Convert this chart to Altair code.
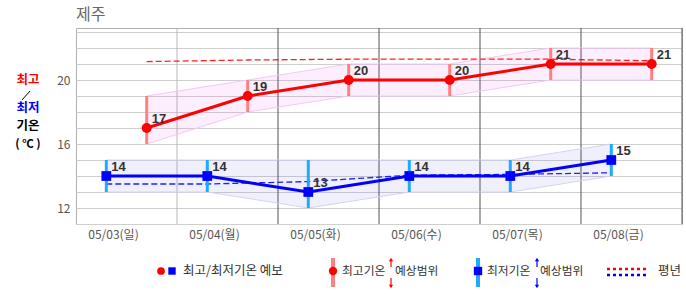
import altair as alt
import pandas as pd

# ---------------- data ----------------
dates = ["05/03(일)", "05/04(월)", "05/05(화)", "05/06(수)", "05/07(목)", "05/08(금)"]
max_fc = [17, 19, 20, 20, 21, 21]
max_lo = [16, 18, 19, 19, 20, 20]
max_hi = [19, 20, 21, 21, 22, 22]
max_normal = [21.15, 21.25, 21.3, 21.3, 21.3, 21.2]
min_fc = [14, 14, 13, 14, 14, 15]
min_lo = [13, 13, 12, 13, 13, 14]
min_hi = [15, 15, 15, 15, 15, 16]
min_normal = [13.5, 13.5, 13.65, 14.05, 14.1, 14.2]
y_ticks = list(range(11, 24))
y_label_step = 4

n = len(dates)
RED_OFF, BLUE_OFF, LABEL_OFF = 0.7, 0.3, 0.366

df_max = pd.DataFrame({"x": [i + RED_OFF for i in range(n)], "fc": max_fc,
                       "lo": max_lo, "hi": max_hi, "normal": max_normal})
df_min = pd.DataFrame({"x": [i + BLUE_OFF for i in range(n)], "fc": min_fc,
                       "lo": min_lo, "hi": min_hi, "normal": min_normal})
df_sep_light = pd.DataFrame({"x": [1]})
df_sep_dark = pd.DataFrame({"x": list(range(2, n + 1))})
df_axis = pd.DataFrame({"x": [i + LABEL_OFF for i in range(n)], "y": [11] * n})

KR = "Noto Sans CJK KR"
NUM = "Liberation Sans"

label_arr = "[" + ",".join("'%s'" % d for d in dates) + "]"
X_AX = alt.Axis(values=[i + LABEL_OFF for i in range(n)],
                labelExpr=label_arr + "[floor(datum.value)]",
                title=None, grid=False, ticks=False, domain=False,
                labelFont=KR, labelFontSize=12, labelColor="#555",
                labelPadding=5, labelAlign="center")
Y_AX = alt.Axis(values=y_ticks,
                labelExpr="datum.value %% %d == 0 ? datum.label : ''" % y_label_step,
                title=None, grid=True, gridColor="#cfcfcf", ticks=False, domain=False,
                labelFont=KR, labelFontSize=12, labelColor="#555", labelPadding=6)
xs = alt.Scale(domain=[0, n], nice=False, zero=False)
ys = alt.Scale(domain=[11, 23.25], nice=False, zero=False)


def X(f="x"):
    return alt.X(f + ":Q", scale=xs, axis=X_AX)


def Y(f):
    return alt.Y(f + ":Q", scale=ys, axis=Y_AX)


layers = []
# axes carrier
layers.append(alt.Chart(df_axis).mark_point(opacity=0).encode(x=X(), y=Y("y")))
# day separators
layers.append(alt.Chart(df_sep_light).mark_rule(color="#b8b8b8", strokeWidth=1).encode(x=X()))
layers.append(alt.Chart(df_sep_dark).mark_rule(color="#555555", strokeWidth=1).encode(x=X()))

# forecast ranges (bands)
layers.append(alt.Chart(df_max).mark_area(color="#ee44ee", opacity=0.09).encode(
    x=X(), y=Y("hi"), y2="lo"))
layers.append(alt.Chart(df_max).mark_line(color="#f4c8f4", strokeWidth=1).encode(x=X(), y=Y("hi")))
layers.append(alt.Chart(df_max).mark_line(color="#f4c8f4", strokeWidth=1).encode(x=X(), y=Y("lo")))
layers.append(alt.Chart(df_min).mark_area(color="#5555dd", opacity=0.09).encode(
    x=X(), y=Y("hi"), y2="lo"))
layers.append(alt.Chart(df_min).mark_line(color="#d4d4f4", strokeWidth=1).encode(x=X(), y=Y("hi")))
layers.append(alt.Chart(df_min).mark_line(color="#d4d4f4", strokeWidth=1).encode(x=X(), y=Y("lo")))

# normals
layers.append(alt.Chart(df_max).mark_line(color="#ff2020", strokeWidth=1.3, strokeDash=[6, 3]).encode(
    x=X(), y=Y("normal")))
layers.append(alt.Chart(df_min).mark_line(color="#2020ff", strokeWidth=1.3, strokeDash=[6, 3]).encode(
    x=X(), y=Y("normal")))

# range bars
layers.append(alt.Chart(df_max).mark_rule(color="#ff8080", strokeWidth=3).encode(
    x=X(), y=Y("hi"), y2="lo"))
layers.append(alt.Chart(df_min).mark_rule(color="#1eaaff", strokeWidth=3).encode(
    x=X(), y=Y("hi"), y2="lo"))

# forecast lines + points
layers.append(alt.Chart(df_max).mark_line(color="#ff0000", strokeWidth=3).encode(x=X(), y=Y("fc")))
layers.append(alt.Chart(df_min).mark_line(color="#0000ff", strokeWidth=3).encode(x=X(), y=Y("fc")))
layers.append(alt.Chart(df_max).mark_point(shape="circle", filled=True, opacity=1, size=100,
                                           color="#ff0000").encode(x=X(), y=Y("fc")))
layers.append(alt.Chart(df_min).mark_point(shape="square", filled=True, opacity=1, size=95,
                                           color="#0000ff").encode(x=X(), y=Y("fc")))

# value labels
for d in (df_max, df_min):
    layers.append(alt.Chart(d).mark_text(align="left", baseline="middle", dx=5, dy=-9.5,
                                         font=NUM, fontSize=13, fontWeight="bold",
                                         color="#333333").encode(
        x=X(), y=Y("fc"), text=alt.Text("fc:Q", format="d")))

one = alt.Data(values=[{"a": 1}])


def txt(t, x, y, **kw):
    return alt.Chart(one).mark_text(text=t, **kw).encode(x=alt.value(x), y=alt.value(y))


def rule(x, y, x2, y2, **kw):
    return alt.Chart(one).mark_rule(**kw).encode(
        x=alt.value(x), y=alt.value(y), x2=alt.value(x2), y2=alt.value(y2))


def pt(x, y, **kw):
    return alt.Chart(one).mark_point(filled=True, opacity=1, **kw).encode(
        x=alt.value(x), y=alt.value(y))


# title
layers.append(txt("제주", 0, -13, align="left", baseline="middle", font=KR,
                  fontSize=16, color="#666666"))
# y title (multi-colour)
yt = dict(align="center", baseline="middle", font=KR, fontSize=12.5, fontWeight="bold")
layers.append(txt("최고", -48, 52, color="#ff0000", **yt))
layers.append(rule(-54, 72, -46, 63, color="#000000", strokeWidth=1))
layers.append(txt("최저", -48, 80, color="#0000ff", **yt))
layers.append(txt("기온", -48, 98, color="#000000", **yt))
layers.append(txt("( ℃ )", -48, 116.5, color="#000000", font=KR, fontSize=11.5,
                  fontWeight="bold", align="center", baseline="middle"))

# legend
LY = 243
lt = dict(align="left", baseline="middle", font=KR, fontSize=12.5, color="#333333")
lt2 = dict(lt, fontSize=11.8)
layers.append(pt(85, LY, shape="circle", size=60, color="#ff0000"))
layers.append(pt(96, LY, shape="square", size=55, color="#0000ff"))
layers.append(txt("최고/최저기온 예보", 107, LY, **lt))

layers.append(rule(257, 230, 257, 259, color="#ff8080", strokeWidth=4))
layers.append(pt(257, LY, shape="circle", size=70, color="#ff0000"))
layers.append(txt("최고기온", 266, LY, **lt2))
layers.append(rule(315, 232, 315, 239, color="#ff0000", strokeWidth=1.2))
layers.append(pt(315, 231.5, shape="triangle-up", size=18, color="#ff0000"))
layers.append(rule(315, 250, 315, 257, color="#ff0000", strokeWidth=1.2))
layers.append(pt(315, 258.5, shape="triangle-down", size=18, color="#ff0000"))
layers.append(txt("예상범위", 319, LY, **lt2))

layers.append(rule(402, 230, 402, 259, color="#1eaaff", strokeWidth=4))
layers.append(pt(402, LY, shape="square", size=70, color="#0000ff"))
layers.append(txt("최저기온", 411, LY, **lt2))
layers.append(rule(461, 232, 461, 239, color="#0000ff", strokeWidth=1.2))
layers.append(pt(461, 231.5, shape="triangle-up", size=18, color="#0000ff"))
layers.append(rule(461, 250, 461, 257, color="#0000ff", strokeWidth=1.2))
layers.append(pt(461, 258.5, shape="triangle-down", size=18, color="#0000ff"))
layers.append(txt("예상범위", 464, LY, **lt2))

layers.append(rule(531, 241, 571, 241, color="#ff0000", strokeWidth=2.5, strokeDash=[3, 3]))
layers.append(rule(531, 247, 571, 247, color="#0000ff", strokeWidth=2.5, strokeDash=[3, 3]))
layers.append(txt("평년", 582, LY, **lt))

chart = alt.layer(*layers).properties(
    width=606, height=196,
    autosize=alt.AutoSizeParams(type="none"),
    padding={"left": 76, "top": 28, "right": 4, "bottom": 71},
    background="#ffffff",
).configure_view(stroke="#b0b0b0", strokeWidth=1)

chart.save("out.html", embed_options={"renderer": "svg", "actions": False})
